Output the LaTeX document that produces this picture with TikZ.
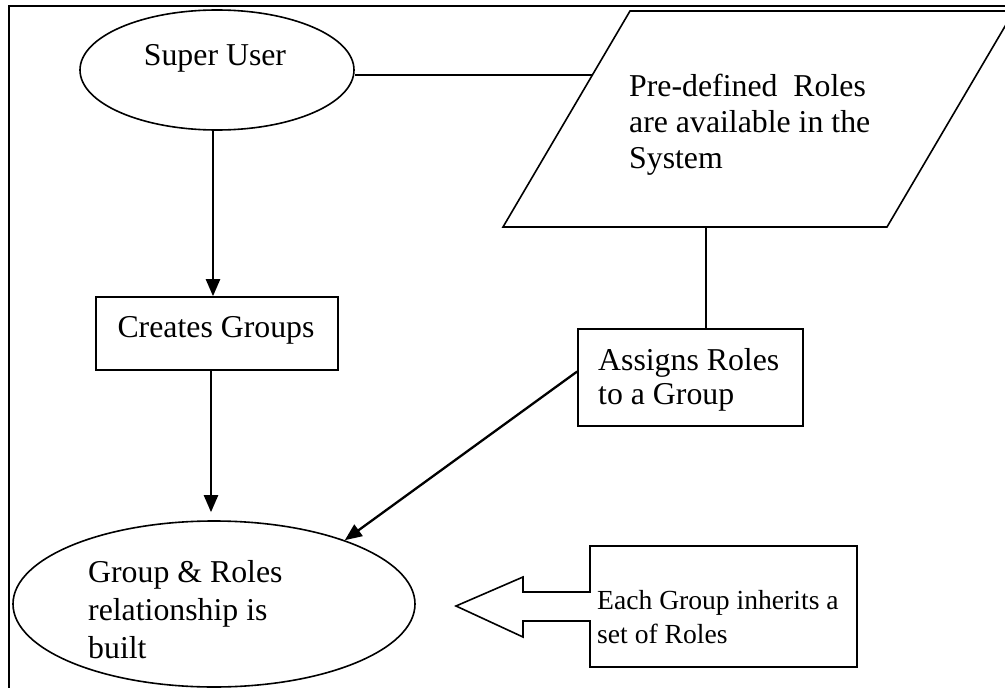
\documentclass[tikz,border=0pt]{standalone}
\usepackage{fontspec}
\setmainfont{Liberation Serif}
\usetikzlibrary{shapes.geometric,arrows.meta}

\tikzset{
  outline/.style={draw=black, line width=1.6pt},
  frameline/.style={draw=black, line width=2.4pt},
  flow/.style={draw=black, line width=2.3pt, -{Triangle[length=17pt,width=14pt]}},
  bubble/.style={ellipse, outline, inner sep=0pt},
  stepbox/.style={rectangle, outline, inner sep=0pt},
  % multi-line labels are placed by the baseline of their last line
  label/.style={inner sep=0pt, align=left, anchor=base west,
    font=\fontsize{31.8}{36}\selectfont},
  smalllabel/.style={label, font=\fontsize{27.6}{34}\selectfont},
}

\begin{document}
\begin{tikzpicture}[x=1pt, y=-1pt]
  \useasboundingbox (0,0) rectangle (1005,688);
  \clip (0,0) rectangle (1005,688);

  % outer frame (runs past the right and bottom page edges)
  \draw[frameline] (9,700) -- (9,6) -- (1015,6);

  % shapes
  \node[bubble, minimum width=274pt, minimum height=120pt] (su) at (217,70) {};
  \node[stepbox, minimum width=242pt, minimum height=73pt] (cg) at (217,333.5) {};
  \node[stepbox, minimum width=225pt, minimum height=97pt] (as) at (690.5,377.5) {};
  \node[bubble, minimum width=402pt, minimum height=166pt] (gr) at (214,604) {};

  % input/output parallelogram
  \draw[outline] (503,227) -- (630,11) -- (1014,11) -- (887,227) -- cycle;
  \coordinate (pdin) at (592,75);
  \coordinate (pdbot) at (706,227);

  % callout box with a hollow left arrow
  \draw[outline] (590,546) -- (857,546) -- (857,667) -- (590,667) -- (590,621)
    -- (523,621) -- (523,637) -- (456,606) -- (523,577) -- (523,592)
    -- (590,592) -- cycle;

  % texts
  \node[anchor=base, inner sep=0pt, font=\fontsize{31.8}{36}\selectfont] (sut) at (215,65) {Super User};
  \node[label] (pdt) at (629,168) {Pre-defined\ \ Roles\\are available in the\\System};
  \node[anchor=base, inner sep=0pt, font=\fontsize{31.8}{36}\selectfont] (cgt) at (216,337) {Creates Groups};
  \node[label, font=\fontsize{31.8}{34}\selectfont] (ast) at (598,404) {Assigns Roles\\to a Group};
  \node[label, font=\fontsize{31.8}{38}\selectfont] (grt) at (88,658) {Group \& Roles\\relationship is\\built};
  \node[smalllabel] (ect) at (597,643) {Each Group inherits a\\set of Roles};

  % connectors
  \draw[outline] (su.east |- pdin) -- (pdin);
  \draw[outline] (pdbot) -- (pdbot |- as.north);
  \draw[flow] ([xshift=-4pt]su.south) -- ([xshift=-4pt]cg.north);
  \draw[flow, shorten >=8pt] ([xshift=-6pt]cg.south) -- ([xshift=-6pt]cg.south |- gr.north);
  \draw[flow] ([yshift=6pt]as.west) -- (gr.26);
\end{tikzpicture}
\end{document}
